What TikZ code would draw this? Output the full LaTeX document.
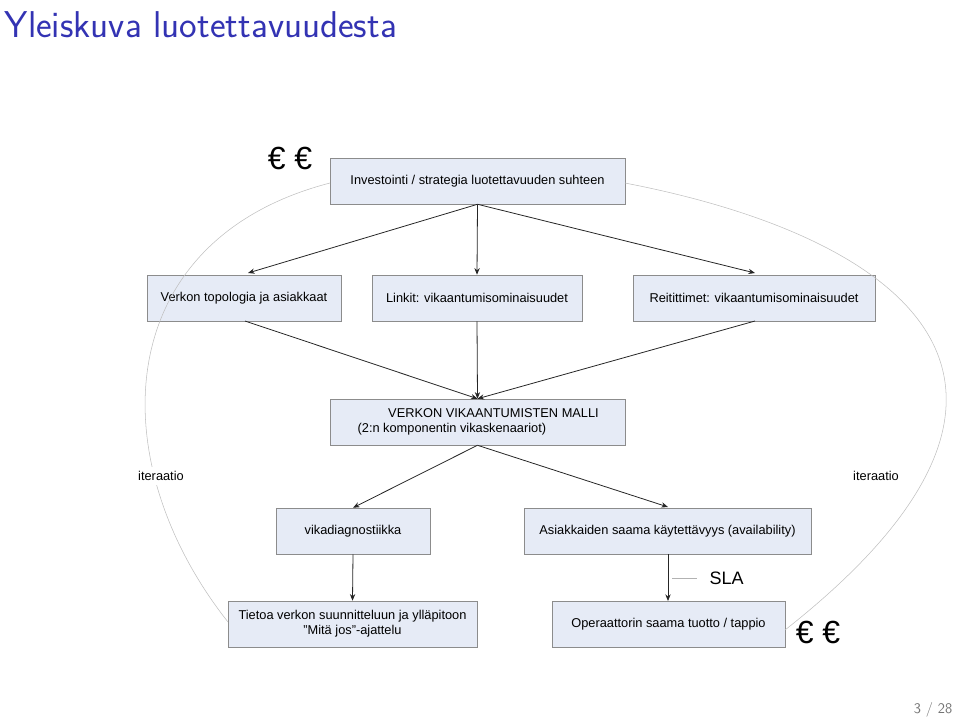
\documentclass[tikz,border=0pt]{standalone}
\usepackage{fontspec}
\usetikzlibrary{arrows.meta}
\setmainfont{Liberation Sans}
\definecolor{boxfill}{HTML}{E6EBF6}
\definecolor{titleblue}{HTML}{3333B3}
\begin{document}
\begin{tikzpicture}[x=0.75pt,y=-0.75pt,
  box/.style={draw=black!45,fill=boxfill,minimum height=34.5pt,inner sep=2pt,font=\fontsize{9.6}{11.5}\selectfont,align=center},
  arr/.style={-{Stealth[length=5pt,width=4pt]},semithick,black!85},
  arc/.style={black!25,thin}]
\useasboundingbox (0,0) rectangle (960,722);
\node[anchor=west,text=titleblue,font=\sffamily\fontsize{28}{32}\selectfont] (title) at (0,25) {Yleiskuva luotettavuudesta};
\node[text=black!55,font=\sffamily\fontsize{11}{13}\selectfont,anchor=east] (pg) at (957,710) {3 / 28};
\node[box,minimum width=221pt] (top) at (477.5,181) {Investointi / strategia luotettavuuden suhteen};
\node[box,minimum width=145.5pt] (a) at (244,298) {Verkon topologia ja asiakkaat};
\node[box,minimum width=157.5pt] (b) at (477,298) {Linkit: vikaantumisominaisuudet};
\node[box,minimum width=181.5pt] (c) at (754,298) {Reitittimet: vikaantumisominaisuudet};
\node[box,minimum width=221pt] (m) at (477.5,422) {\hspace*{2.5em}VERKON VIKAANTUMISTEN MALLI\\(2:n komponentin vikaskenaariot)\hspace*{4em}};
\node[box,minimum width=115.5pt] (d) at (353,531) {vikadiagnostiikka};
\node[box,minimum width=215pt] (e) at (667.5,531) {Asiakkaiden saama käytettävyys (availability)};
\node[box,minimum width=186.5pt] (f) at (352.5,624) {Tietoa verkon suunnitteluun ja ylläpitoon\\”Mitä jos”-ajattelu};
\node[box,minimum width=174.5pt] (g) at (668.5,624) {Operaattorin saama tuotto / tappio};
\draw[arr] (top.south) -- (248,273);
\draw[arr] (top.south) -- (b.north);
\draw[arr] (top.south) -- (755,273);
\draw[arr] (245,321) -- (m.north);
\draw[arr] (b.south) -- (m.north);
\draw[arr] (755,321) -- (m.north);
\draw[arr] (m.south) -- (d.north);
\draw[arr] (m.south) -- (668,507);
\draw[arr] (d.south) -- (f.north);
\draw[arr] (668,554) -- (668,601);
\draw[black!30] (672,578) -- (697,578);
\node[font=\fontsize{13.5}{15}\selectfont,anchor=west] (sla) at (705,578) {SLA};
\draw[arc] (330,183) .. controls (110,240) and (100,460) .. (228,622);
\draw[arc] (625,183) .. controls (920,240) and (1090,390) .. (785,630);
\node[fill=white,font=\fontsize{9.6}{11}\selectfont] (il) at (161,476) {iteraatio};
\node[fill=white,font=\fontsize{9.6}{11}\selectfont] (ir) at (876,476) {iteraatio};
\node[font=\fontsize{24}{26}\selectfont] (e1) at (290,158) {€ €};
\node[font=\fontsize{24}{26}\selectfont] (e2) at (818,632) {€ €};
\end{tikzpicture}
\end{document}
